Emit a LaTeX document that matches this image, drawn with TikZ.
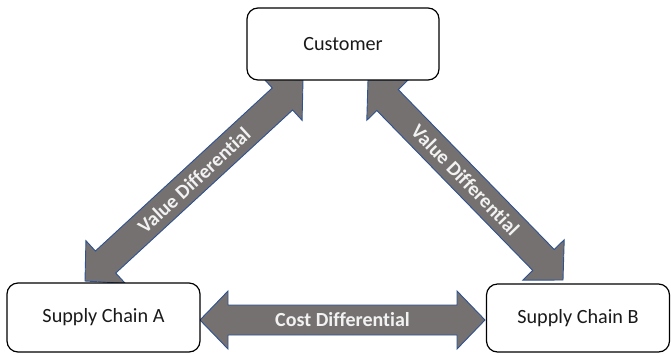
\documentclass[tikz,border=0pt]{standalone}
\usepackage{fontspec}
\setmainfont{Carlito}[Ligatures=NoCommon]
\usetikzlibrary{calc}
\definecolor{arrowgray}{HTML}{767171}
\definecolor{arrowedge}{HTML}{2F528F}
\definecolor{boxtext}{HTML}{1A1A1A}
\tikzset{
  box/.style={draw=black, line width=1.2pt, fill=white, rounded corners=11pt,
    text=boxtext, font=\fontsize{20.2}{24}\selectfont, inner sep=0pt},
  fatarrow/.style={fill=arrowgray, draw=arrowedge, line width=0.9pt, line join=miter},
  lbl/.style={text=white!95!black, font=\bfseries\fontsize{20}{24}\selectfont, inner sep=0pt}
}
\newcommand\fatdoublearrow[2]{%
  \filldraw[fatarrow] (#1)
   -- ($(#1)!28pt!(#2)!29pt!90:(#2)$) -- ($(#1)!28pt!(#2)!15pt!90:(#2)$)
   -- ($(#2)!28pt!(#1)!15pt!-90:(#1)$) -- ($(#2)!28pt!(#1)!29pt!-90:(#1)$)
   -- (#2)
   -- ($(#2)!28pt!(#1)!29pt!90:(#1)$) -- ($(#2)!28pt!(#1)!15pt!90:(#1)$)
   -- ($(#1)!28pt!(#2)!15pt!-90:(#2)$) -- ($(#1)!28pt!(#2)!29pt!-90:(#2)$)
   -- cycle;}
\begin{document}
\begin{tikzpicture}[x=1pt, y=-1pt]
\useasboundingbox (0,0) rectangle (671,354);
% arrow end points
\coordinate (vl1) at (85,281);
\coordinate (vl2) at (303,80);
\coordinate (vr1) at (368,80);
\coordinate (vr2) at (563,280);
\coordinate (c1) at (200,320);
\coordinate (c2) at (485,320);
\fatdoublearrow{vl1}{vl2}
\fatdoublearrow{vr1}{vr2}
\fatdoublearrow{c1}{c2}
\path (vl1) -- (vl2) node[midway, sloped, lbl] {Value Differential};
\path (vr1) -- (vr2) node[midway, sloped, lbl] {Value Differential};
\path (c1) -- (c2) node[midway, lbl] {Cost Differential};
% boxes
\node[box, minimum width=192pt, minimum height=72pt] (cust) at (343,44) {Customer};
\node[box, minimum width=193pt, minimum height=69pt] (sca) at (103.5,317.5) {Supply Chain A};
\node[box, minimum width=183pt, minimum height=68pt] (scb) at (578,318) {Supply Chain B};
\end{tikzpicture}
\end{document}
